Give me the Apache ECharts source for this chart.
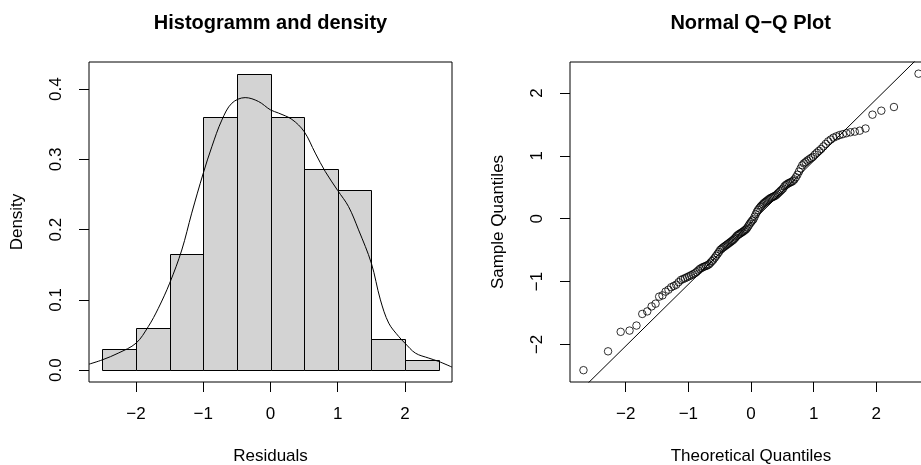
<!DOCTYPE html>
<html><head><meta charset="utf-8">
<script src="https://cdn.jsdelivr.net/npm/echarts@6/dist/echarts.min.js"></script>
<style>html,body{margin:0;padding:0;background:#fff}#c{width:921px;height:465px}</style>
</head><body><div id="c"></div>
<script>
// ---- data ----
const binEdges = [-2.5, -2, -1.5, -1, -0.5, 0, 0.5, 1, 1.5, 2, 2.5];
const histDensity = [0.030, 0.060, 0.165, 0.361, 0.421, 0.361, 0.286, 0.256, 0.045, 0.015];

const densX = [-2.70, -2.5, -2.265, -2.0, -1.818, -1.669, -1.5, -1.32, -1.172, -1.0, -0.873, -0.724, -0.575, -0.377, -0.179, 0.0, 0.119, 0.318, 0.5, 0.666, 0.815, 1.0, 1.16, 1.31, 1.5, 1.635, 1.759, 1.908, 2.0, 2.156, 2.355, 2.504, 2.70];
const densY = [0.0085, 0.0147, 0.0242, 0.0384, 0.062, 0.088, 0.1238, 0.171, 0.2235, 0.2804, 0.318, 0.356, 0.380, 0.388, 0.3825, 0.3705, 0.366, 0.357, 0.3397, 0.309, 0.2827, 0.2557, 0.233, 0.1997, 0.1523, 0.100, 0.0669, 0.0478, 0.0384, 0.0242, 0.0171, 0.0123, 0.0043];

const sampleQuantiles = [
  -2.41, -2.11, -1.80, -1.78, -1.70, -1.515, -1.475, -1.395, -1.352, -1.24,
  -1.22, -1.16, -1.13, -1.09, -1.07, -1.05, -1.01, -0.975, -0.96, -0.945,
  -0.93, -0.915, -0.90, -0.885, -0.87, -0.85, -0.825, -0.80, -0.785, -0.77,
  -0.76, -0.75, -0.74, -0.725, -0.70, -0.675, -0.65, -0.62, -0.59, -0.56,
  -0.53, -0.495, -0.48, -0.46, -0.445, -0.43, -0.415, -0.40, -0.385, -0.37,
  -0.355, -0.34, -0.32, -0.30, -0.275, -0.26, -0.245, -0.235, -0.22, -0.21,
  -0.195, -0.18, -0.165, -0.14, -0.11, -0.08, -0.055, -0.03, -0.01, 0.03,
  0.07, 0.11, 0.14, 0.165, 0.19, 0.21, 0.23, 0.25, 0.265, 0.28,
  0.295, 0.31, 0.325, 0.335, 0.345, 0.355, 0.365, 0.38, 0.40, 0.42,
  0.44, 0.46, 0.48, 0.515, 0.535, 0.55, 0.565, 0.575, 0.585, 0.60,
  0.625, 0.66, 0.70, 0.75, 0.80, 0.85, 0.88, 0.90, 0.925, 0.945,
  0.965, 0.985, 1.02, 1.05, 1.08, 1.11, 1.15, 1.19, 1.23, 1.26,
  1.29, 1.31, 1.33, 1.345, 1.36, 1.375, 1.385, 1.40, 1.435, 1.655,
  1.718, 1.777, 2.307
];

const histXTicks = [-2, -1, 0, 1, 2];
const histYTicks = [0, 0.1, 0.2, 0.3, 0.4];
const qqXTicks = [-2, -1, 0, 1, 2];
const qqYTicks = [-2, -1, 0, 1, 2];

const titles = ['Histogramm and density', 'Normal Q\u2212Q Plot'];
const axisNames = { histX: 'Residuals', histY: 'Density', qqX: 'Theoretical Quantiles', qqY: 'Sample Quantiles' };

// ---- helpers: normal quantile (Acklam) for theoretical quantiles ----
function qnorm(p) {
  const a = [-3.969683028665376e+01, 2.209460984245205e+02, -2.759285104469687e+02, 1.383577518672690e+02, -3.066479806614716e+01, 2.506628277459239e+00];
  const b = [-5.447609879822406e+01, 1.615858368580409e+02, -1.556989798598866e+02, 6.680131188771972e+01, -1.328068155288572e+01];
  const c = [-7.784894002430293e-03, -3.223964580411365e-01, -2.400758277161838e+00, -2.549732539343734e+00, 4.374664141464968e+00, 2.938163982698783e+00];
  const d = [7.784695709041462e-03, 3.224671290700398e-01, 2.445134137142996e+00, 3.754408661907416e+00];
  const pl = 0.02425, ph = 1 - pl;
  let q, r;
  if (p < pl) { q = Math.sqrt(-2 * Math.log(p)); return (((((c[0]*q+c[1])*q+c[2])*q+c[3])*q+c[4])*q+c[5]) / ((((d[0]*q+d[1])*q+d[2])*q+d[3])*q+1); }
  if (p <= ph) { q = p - 0.5; r = q*q; return (((((a[0]*r+a[1])*r+a[2])*r+a[3])*r+a[4])*r+a[5])*q / (((((b[0]*r+b[1])*r+b[2])*r+b[3])*r+b[4])*r+1); }
  q = Math.sqrt(-2 * Math.log(1 - p));
  return -(((((c[0]*q+c[1])*q+c[2])*q+c[3])*q+c[4])*q+c[5]) / ((((d[0]*q+d[1])*q+d[2])*q+d[3])*q+1);
}
const n = sampleQuantiles.length;
const sorted = sampleQuantiles.slice().sort((x, y) => x - y);
const qqData = sorted.map((s, i) => [qnorm((i + 1 - 0.5) / n), s]);
function quantile7(arr, p) { const h = (arr.length - 1) * p; const lo = Math.floor(h); return arr[lo] + (h - lo) * ((arr[Math.min(lo + 1, arr.length - 1)]) - arr[lo]); }
const y25 = quantile7(sorted, 0.25), y75 = quantile7(sorted, 0.75);
const z25 = qnorm(0.25), z75 = qnorm(0.75);
const qqSlope = (y75 - y25) / (z75 - z25);
const qqInt = y25 - qqSlope * z25;

const histBars = histDensity.map((h, i) => [binEdges[i], binEdges[i + 1], h]);
const densData = densX.map((x, i) => [x, densY[i]]);

// ---- chart ----
const FONT = 'Liberation Sans';
const minus = v => String(v).replace('-', '\u2212');
function axis(opts) {
  return Object.assign({
    type: 'value',
    axisLine: { show: false, onZero: false },
    splitLine: { show: false },
    axisTick: { show: true, inside: false, length: 10, customValues: opts.ticks, lineStyle: { color: '#000', width: 1 } },
    axisLabel: { customValues: opts.ticks, fontFamily: FONT, fontSize: 17, color: '#000', margin: 24, formatter: opts.fmt, rotate: opts.rotate || 0 },
    nameLocation: 'middle',
    nameGap: opts.nameGap,
    nameTextStyle: { fontFamily: FONT, fontSize: 17, color: '#000' }
  }, opts.extra);
}

const chart = echarts.init(document.getElementById('c'), null, { renderer: 'canvas' });
chart.setOption({
  animation: false,
  backgroundColor: '#fff',
  title: [
    { text: titles[0], left: 270.5, top: 13, textAlign: 'center', padding: 0, textStyle: { fontFamily: FONT, fontSize: 20, fontWeight: 'bold', color: '#000' } },
    { text: titles[1], left: 750.7, top: 13, textAlign: 'center', padding: 0, textStyle: { fontFamily: FONT, fontSize: 20, fontWeight: 'bold', color: '#000' } }
  ],
  grid: [
    { left: 89, top: 62, width: 363, height: 320, show: true, borderColor: '#000', borderWidth: 1, backgroundColor: 'transparent', outerBoundsMode: 'none', containLabel: false },
    { left: 570, top: 62, width: 362, height: 320, show: true, borderColor: '#000', borderWidth: 1, backgroundColor: 'transparent', outerBoundsMode: 'none', containLabel: false }
  ],
  xAxis: [
    axis({ ticks: histXTicks, fmt: minus, nameGap: 66, extra: { gridIndex: 0, min: -2.7, max: 2.7, name: axisNames.histX } }),
    axis({ ticks: qqXTicks, fmt: minus, nameGap: 66, extra: { gridIndex: 1, min: -2.888, max: 2.888, name: axisNames.qqX } })
  ],
  yAxis: [
    axis({ ticks: histYTicks, fmt: v => v.toFixed(1), rotate: 90, nameGap: 63, extra: { gridIndex: 0, min: -0.0169, max: 0.4387, name: axisNames.histY } }),
    axis({ ticks: qqYTicks, fmt: minus, rotate: 90, nameGap: 63, extra: { gridIndex: 1, min: -2.598, max: 2.493, name: axisNames.qqY } })
  ],
  series: [
    {
      type: 'custom', xAxisIndex: 0, yAxisIndex: 0, data: histBars, encode: { x: [0, 1], y: 2 },
      renderItem: (params, api) => {
        const p0 = api.coord([api.value(0), api.value(2)]);
        const p1 = api.coord([api.value(1), 0]);
        return { type: 'rect', shape: { x: Math.round(p0[0]) + 0.5, y: Math.round(p0[1]) + 0.5, width: Math.round(p1[0]) - Math.round(p0[0]), height: Math.round(p1[1]) - Math.round(p0[1]) },
                 style: { fill: '#d3d3d3', stroke: '#000', lineWidth: 1 } };
      }
    },
    { type: 'line', xAxisIndex: 0, yAxisIndex: 0, data: densData, smooth: 0.35, showSymbol: false, clip: true, lineStyle: { color: '#000', width: 1 } },
    { type: 'line', xAxisIndex: 1, yAxisIndex: 1, data: [[-3.5, qqInt + qqSlope * -3.5], [3.5, qqInt + qqSlope * 3.5]], showSymbol: false, clip: true, lineStyle: { color: '#000', width: 1 } },
    { type: 'scatter', xAxisIndex: 1, yAxisIndex: 1, data: qqData, symbol: 'circle', symbolSize: 7.5, clip: true,
      itemStyle: { color: 'rgba(0,0,0,0)', borderColor: '#000', borderWidth: 1 } }
  ]
});
</script></body></html>
